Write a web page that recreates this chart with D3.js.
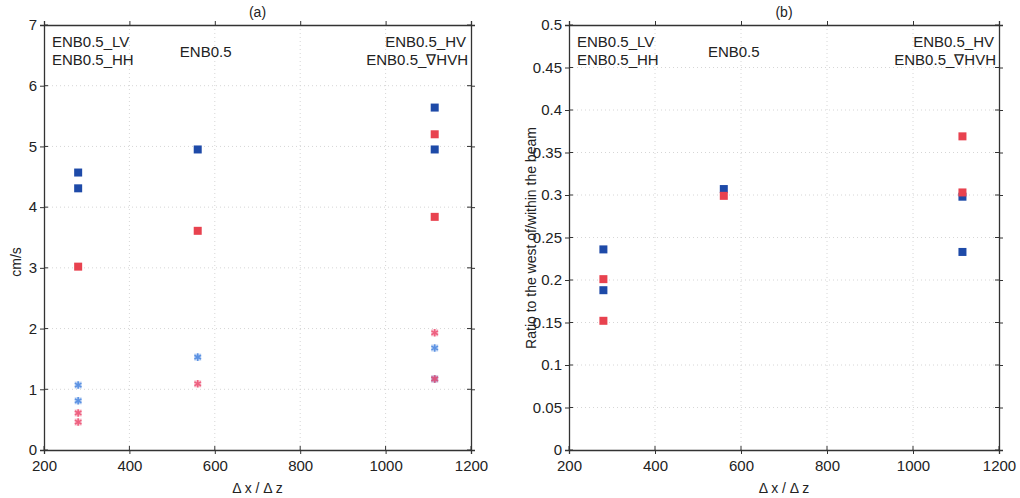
<!DOCTYPE html>
<html><head><meta charset="utf-8">
<script src="https://cdn.jsdelivr.net/npm/d3@7"></script>
<style>body{margin:0;background:#fff}text{font-family:"Liberation Sans",Arial,sans-serif;fill:#222}</style>
</head><body><svg id="c" width="1020" height="498"></svg>
<script>
const xTicks = [200, 400, 600, 800, 1000, 1200];
const yTicksA = [0, 1, 2, 3, 4, 5, 6, 7];
const yTicksB = [0, 0.05, 0.1, 0.15, 0.2, 0.25, 0.3, 0.35, 0.4, 0.45, 0.5];
const cases = ["ENB0.5_LV/HH", "ENB0.5", "ENB0.5_HV/∇HVH"];
const xPos = [280, 560, 1115];
// panel (a) squares
const aBlueSq = [[280, 4.57], [280, 4.31], [560, 4.95], [1115, 5.64], [1115, 4.95]];
const aRedSq = [[280, 3.02], [560, 3.61], [1115, 5.2], [1115, 3.84]];
// panel (a) asterisks
const aBlueStar = [[280, 1.07], [280, 0.81], [560, 1.53], [1115, 1.68], [1115, 1.17]];
const aRedStar = [[280, 0.61], [280, 0.46], [560, 1.09], [1115, 1.93], [1115, 1.17]];
// panel (b) squares
const bBlueSq = [[280, 0.236], [280, 0.188], [560, 0.307], [1115, 0.298], [1115, 0.233]];
const bRedSq = [[280, 0.201], [280, 0.152], [560, 0.299], [1115, 0.369], [1115, 0.303]];

const svg = d3.select("#c");
const BLUE = "#1e4aa8", RED = "#e8424f", LBLUE = "#4a86df", PINK = "#ec4f72";

function panel(o) {
  const x = d3.scaleLinear().domain([200, 1200]).range([o.x0, o.x1]);
  const y = d3.scaleLinear().domain(o.ydom).range([450, 25]);
  const g = svg.append("g");
  // grid
  g.selectAll(".gx").data(xTicks.slice(1, -1)).join("line")
    .attr("x1", d => x(d)).attr("x2", d => x(d)).attr("y1", 25).attr("y2", 450)
    .attr("stroke", "#d6d6d6").attr("stroke-dasharray", "1,3").attr("stroke-width", 1);
  g.selectAll(".gy").data(o.yt.slice(1, -1)).join("line")
    .attr("x1", o.x0).attr("x2", o.x1).attr("y1", d => y(d)).attr("y2", d => y(d))
    .attr("stroke", "#d6d6d6").attr("stroke-dasharray", "1,3").attr("stroke-width", 1);
  // axes
  const ax = g.append("g").attr("transform", "translate(0,450)")
    .call(d3.axisBottom(x).tickValues(xTicks).tickSize(4).tickPadding(6).tickFormat(d3.format("d")));
  const axT = g.append("g").attr("transform", "translate(0,25)")
    .call(d3.axisTop(x).tickValues(xTicks).tickSize(4).tickFormat(""));
  const ay = g.append("g").attr("transform", `translate(${o.x0},0)`)
    .call(d3.axisLeft(y).tickValues(o.yt).tickSize(4).tickPadding(3).tickFormat(o.fmt));
  const ayR = g.append("g").attr("transform", `translate(${o.x1},0)`)
    .call(d3.axisRight(y).tickValues(o.yt).tickSize(4).tickFormat(""));
  [ax, axT, ay, ayR].forEach(a => {
    a.select(".domain").attr("stroke", "#333").attr("stroke-width", 1.3);
    a.selectAll(".tick line").attr("stroke", "#333");
    a.selectAll("text").style("font-size", "15px").attr("fill", "#222").style("font-family", '"Liberation Sans",Arial,sans-serif');
  });
  // inner ticks too
  g.selectAll(".itx").data(xTicks).join("line")
    .attr("x1", d => x(d)).attr("x2", d => x(d)).attr("y1", 450).attr("y2", 446).attr("stroke", "#333");
  g.selectAll(".ity").data(o.yt).join("line")
    .attr("x1", o.x0).attr("x2", o.x0 + 4).attr("y1", d => y(d)).attr("y2", d => y(d)).attr("stroke", "#333");
  g.selectAll(".ity2").data(o.yt).join("line")
    .attr("x1", o.x1).attr("x2", o.x1 - 4).attr("y1", d => y(d)).attr("y2", d => y(d)).attr("stroke", "#333");
  // title
  g.append("text").attr("x", (o.x0 + o.x1) / 2).attr("y", 17).attr("text-anchor", "middle")
    .style("font-size", "14px").text(o.title);
  g.append("text").attr("x", (o.x0 + o.x1) / 2).attr("y", 493).attr("text-anchor", "middle")
    .style("font-size", "14px").text("Δ x / Δ z");
  g.append("text").attr("transform", `translate(${o.ylx},${o.yly}) rotate(-90)`).attr("text-anchor", "middle")
    .style("font-size", "14px").text(o.ylab);
  // case labels
  const lab = [
    { t: "ENB0.5_LV", xv: o.x0 + 8, yv: 47, a: "start" },
    { t: "ENB0.5_HH", xv: o.x0 + 8, yv: 65, a: "start" },
    { t: "ENB0.5", xv: x(xPos[1]) + o.mid, yv: 57, a: "middle" },
    { t: "ENB0.5_HV", xv: o.x1 - 5, yv: 47, a: "end" },
    { t: "ENB0.5_∇HVH", xv: o.x1 - 3, yv: 65, a: "end" }
  ];
  g.selectAll(".lab").data(lab).join("text").attr("x", d => d.xv).attr("y", d => d.yv)
    .attr("text-anchor", d => d.a).style("font-size", "15px").text(d => d.t);
  // squares
  const sq = (data, col, s) => g.append("g").selectAll("rect").data(data).join("rect")
    .attr("x", d => x(d[0]) - s / 2).attr("y", d => y(d[1]) - s / 2).attr("width", s).attr("height", s).attr("fill", col);
  o.sq.forEach(([data, col]) => sq(data, col, 8));
  // asterisks
  const star = d3.symbol().type(d3.symbolAsterisk).size(40);
  o.st.forEach(([data, col]) => {
    g.append("g").selectAll("rect").data(data).join("rect")
      .attr("x", d => x(d[0]) - 3.5).attr("y", d => y(d[1]) - 3.5).attr("width", 7).attr("height", 7)
      .attr("fill", col).attr("opacity", 0.35);
    g.append("g").selectAll("path").data(data).join("path").attr("d", star)
      .attr("transform", d => `translate(${x(d[0])},${y(d[1])})`).attr("stroke", col).attr("stroke-width", 1.6).attr("fill", "none")
      .attr("opacity", 0.85);
  });
}

panel({ x0: 44, x1: 471, ydom: [0, 7], yt: yTicksA, fmt: d3.format("d"), title: "(a)",
  ylab: "cm/s", ylx: 21, yly: 262, mid: 8,
  sq: [[aBlueSq, BLUE], [aRedSq, RED]], st: [[aBlueStar, LBLUE], [aRedStar, PINK]] });
panel({ x0: 569, x1: 999, ydom: [0, 0.5], yt: yTicksB, fmt: d => d === 0 ? "0" : String(d), title: "(b)",
  ylab: "Ratio to the west of/within the beam", ylx: 536, yly: 238, mid: 10,
  sq: [[bBlueSq, BLUE], [bRedSq, RED]], st: [] });
</script></body></html>
